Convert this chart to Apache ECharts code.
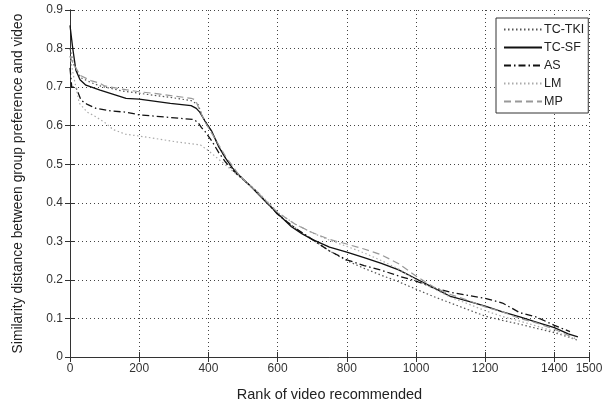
<!DOCTYPE html>
<html>
<head>
<meta charset="utf-8">
<script src="https://cdn.jsdelivr.net/npm/echarts@6/dist/echarts.min.js"></script>
<style>html,body{margin:0;padding:0;background:#fff}#c{width:611px;height:407px}</style>
</head>
<body>
<div id="c"></div>
<script>
var seriesNames = ["TC-TKI", "TC-SF", "AS", "LM", "MP"];
var xTicks = [0, 200, 400, 600, 800, 1000, 1200, 1400, 1500];
var yTicks = [0, 0.1, 0.2, 0.3, 0.4, 0.5, 0.6, 0.7, 0.8, 0.9];

var tktiX = [0, 10, 30, 60, 87, 150, 200, 300, 350, 370, 385, 400, 420, 440, 460, 480, 500, 540, 580, 600, 650, 700, 750, 800, 850, 900, 950, 1000, 1050, 1100, 1150, 1200, 1250, 1300, 1350, 1400, 1440, 1468];
var tktiY = [0.80, 0.76, 0.725, 0.712, 0.703, 0.69, 0.684, 0.672, 0.665, 0.655, 0.62, 0.60, 0.565, 0.53, 0.50, 0.475, 0.46, 0.43, 0.39, 0.37, 0.335, 0.305, 0.275, 0.25, 0.23, 0.212, 0.195, 0.176, 0.157, 0.14, 0.123, 0.106, 0.095, 0.085, 0.074, 0.063, 0.052, 0.043];

var sfX = [0, 8, 17, 29, 46, 87, 162, 200, 290, 350, 365, 375, 390, 410, 430, 450, 470, 490, 520, 560, 600, 640, 670, 700, 750, 800, 850, 900, 950, 1000, 1050, 1100, 1150, 1200, 1250, 1300, 1350, 1400, 1440, 1468];
var sfY = [0.86, 0.80, 0.744, 0.719, 0.705, 0.692, 0.671, 0.669, 0.658, 0.652, 0.645, 0.635, 0.612, 0.585, 0.545, 0.515, 0.49, 0.47, 0.445, 0.408, 0.372, 0.338, 0.32, 0.305, 0.285, 0.272, 0.258, 0.243, 0.226, 0.203, 0.18, 0.157, 0.145, 0.132, 0.117, 0.104, 0.09, 0.076, 0.06, 0.052];

var asX = [0, 5, 17, 32, 50, 75, 120, 162, 200, 280, 358, 370, 380, 390, 410, 430, 450, 470, 490, 520, 560, 600, 650, 700, 750, 800, 850, 900, 950, 1000, 1050, 1100, 1150, 1200, 1250, 1300, 1350, 1400, 1445];
var asY = [0.75, 0.70, 0.70, 0.666, 0.655, 0.645, 0.638, 0.635, 0.628, 0.622, 0.616, 0.608, 0.595, 0.585, 0.56, 0.53, 0.505, 0.485, 0.47, 0.445, 0.41, 0.37, 0.335, 0.305, 0.275, 0.252, 0.237, 0.225, 0.21, 0.197, 0.18, 0.168, 0.16, 0.152, 0.14, 0.115, 0.103, 0.082, 0.066];

var lmX = [0, 10, 27, 50, 75, 104, 124, 160, 216, 307, 377, 400, 420, 440, 460, 480, 500, 540, 580, 600, 650, 700, 750, 800, 850, 900, 950, 1000, 1050, 1100, 1150, 1200, 1250, 1300, 1350, 1400, 1460];
var lmY = [0.78, 0.73, 0.658, 0.635, 0.623, 0.606, 0.59, 0.578, 0.571, 0.558, 0.55, 0.535, 0.52, 0.505, 0.49, 0.475, 0.462, 0.43, 0.395, 0.375, 0.345, 0.322, 0.303, 0.287, 0.27, 0.25, 0.228, 0.20, 0.178, 0.155, 0.138, 0.12, 0.105, 0.093, 0.08, 0.066, 0.046];

var mpX = [0, 10, 30, 60, 87, 100, 150, 200, 250, 300, 350, 362, 375, 390, 410, 430, 450, 470, 490, 520, 560, 600, 650, 700, 750, 800, 850, 900, 950, 1000, 1050, 1100, 1150, 1200, 1250, 1300, 1350, 1400, 1460];
var mpY = [0.78, 0.76, 0.73, 0.717, 0.71, 0.703, 0.695, 0.688, 0.683, 0.677, 0.671, 0.667, 0.64, 0.61, 0.58, 0.55, 0.52, 0.495, 0.47, 0.445, 0.41, 0.375, 0.345, 0.323, 0.305, 0.293, 0.28, 0.265, 0.242, 0.21, 0.182, 0.162, 0.147, 0.13, 0.117, 0.10, 0.088, 0.072, 0.048];

function zip(xs, ys) { return xs.map(function (x, i) { return [x, ys[i]]; }); }

var FONT = '"Liberation Sans", Arial, sans-serif';
var chart = echarts.init(document.getElementById('c'), null, { renderer: 'canvas' });

function mkSeries(name, xs, ys, color, type, width) {
  return {
    name: name, type: 'line', data: zip(xs, ys), symbol: 'none', smooth: false,
    lineStyle: { color: color, type: type, width: width },
    itemStyle: { color: color },
    animation: false, z: 3
  };
}

var axisCommon = {
  axisLine: { show: true, lineStyle: { color: '#333', width: 1 } },
  axisTick: { show: true, inside: true, length: 5, lineStyle: { color: '#333' } }
};

chart.setOption({
  animation: false,
  backgroundColor: '#fff',
  grid: { left: 70, right: 22, top: 10, bottom: 50, containLabel: false },
  legend: {
    orient: 'vertical', left: 496, top: 18,
    itemWidth: 38, itemHeight: 12, itemGap: 5,
    padding: [5, 4, 5, 7],
    backgroundColor: '#fff', borderColor: '#333', borderWidth: 1,
    itemStyle: { opacity: 0 },
    textStyle: { fontFamily: FONT, fontSize: 12.5, color: '#222', padding: [0, 0, 0, -3] },
    data: seriesNames
  },
  xAxis: [
    Object.assign({
      type: 'value', min: 0, max: 1500, interval: 200, position: 'bottom',
      name: 'Rank of video recommended', nameLocation: 'middle', nameGap: 30,
      nameTextStyle: { fontFamily: FONT, fontSize: 14.5, color: '#222' },
      axisLabel: { fontFamily: FONT, fontSize: 12, color: '#333', margin: 6,
        formatter: function (v) { return xTicks.indexOf(v) >= 0 ? String(v) : ''; } },
      splitLine: { show: true, lineStyle: { color: '#444', type: [1, 3], width: 1 } }
    }, axisCommon),
    Object.assign({
      type: 'value', min: 0, max: 1500, interval: 200, position: 'top',
      axisLabel: { show: false }, splitLine: { show: false }
    }, axisCommon)
  ],
  yAxis: [
    Object.assign({
      type: 'value', min: 0, max: 0.9, interval: 0.1, position: 'left',
      name: 'Similarity distance between group preference and video', nameLocation: 'middle', nameGap: 45,
      nameTextStyle: { fontFamily: FONT, fontSize: 13.8, color: '#222' },
      axisLabel: { fontFamily: FONT, fontSize: 12, color: '#333', margin: 7,
        formatter: function (v) { var r = Math.round(v * 10) / 10; return yTicks.indexOf(r) >= 0 ? String(r) : ''; } },
      splitLine: { show: true, lineStyle: { color: '#444', type: [1, 3], width: 1 } }
    }, axisCommon),
    Object.assign({
      type: 'value', min: 0, max: 0.9, interval: 0.1, position: 'right',
      axisLabel: { show: false }, splitLine: { show: false }
    }, axisCommon)
  ],
  series: [
    mkSeries('TC-TKI', tktiX, tktiY, '#555', [1.5, 2.5], 1.2),
    mkSeries('TC-SF', sfX, sfY, '#111', 'solid', 1.3),
    mkSeries('AS', asX, asY, '#111', [7, 3, 1.5, 3], 1.3),
    mkSeries('LM', lmX, lmY, '#aaa', [1.5, 2.5], 1.2),
    mkSeries('MP', mpX, mpY, '#999', [7, 4], 1.2)
  ]
});
</script>
</body>
</html>
